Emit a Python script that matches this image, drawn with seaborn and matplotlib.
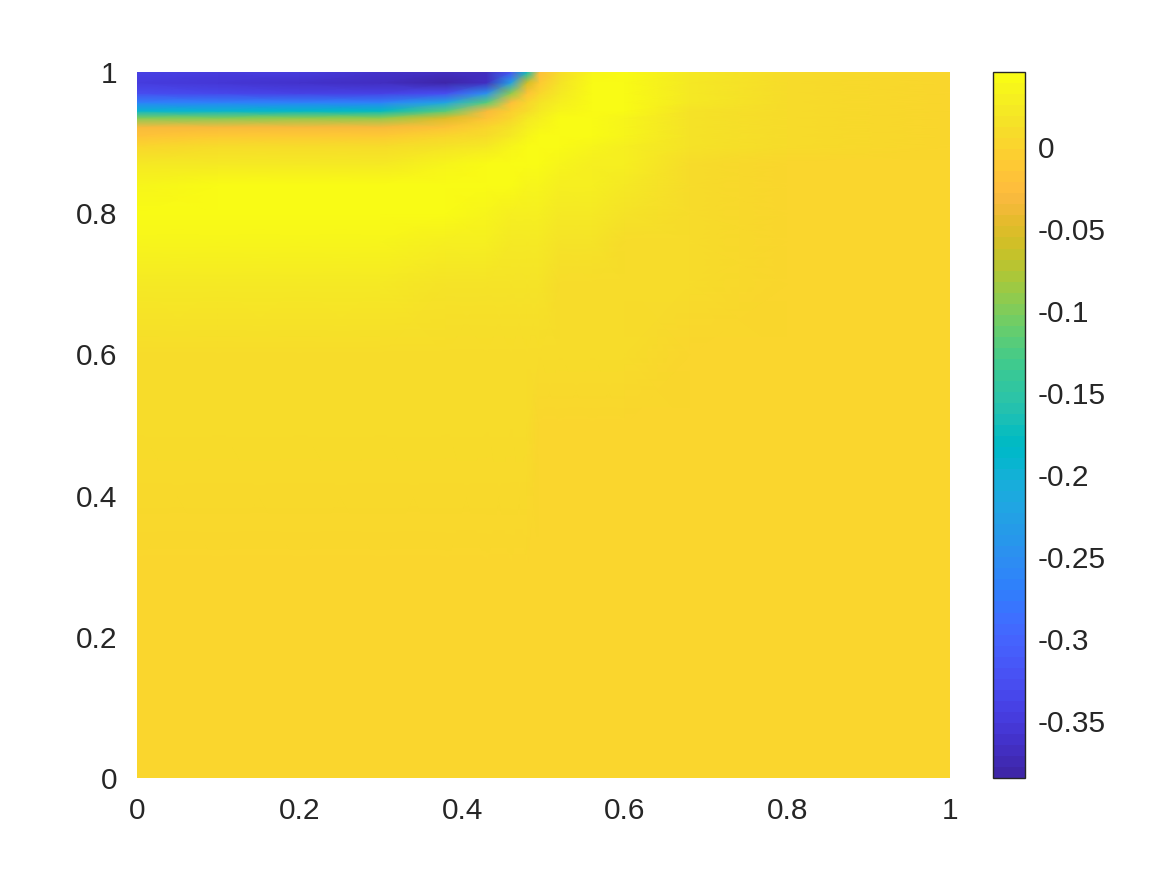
import numpy as np
import matplotlib
matplotlib.use("Agg")
import matplotlib.pyplot as plt
import seaborn as sns
from matplotlib.colors import ListedColormap

# grid (x columns, y rows bottom -> top)
xs = [0, 0.1, 0.2, 0.3, 0.38, 0.43, 0.46, 0.48, 0.495, 0.52, 0.56, 0.6, 0.68, 0.8, 1.0]
ys = [0, 0.3, 0.5, 0.6, 0.7, 0.76, 0.8, 0.84, 0.87, 0.895, 0.91, 0.922, 0.935,
      0.945, 0.957, 0.97, 0.985, 1.0]

z_000 = [0.003, 0.003, 0.003, 0.003, 0.003, 0.003, 0.003, 0.003, 0.003, 0.003, 0.003, 0.003, 0.003, 0.003, 0.003]
z_030 = [0.004, 0.004, 0.004, 0.004, 0.004, 0.004, 0.004, 0.004, 0.004, 0.004, 0.004, 0.004, 0.004, 0.004, 0.004]
z_050 = [0.007, 0.007, 0.007, 0.007, 0.007, 0.006, 0.006, 0.006, 0.005, 0.005, 0.005, 0.005, 0.004, 0.004, 0.004]
z_060 = [0.012, 0.012, 0.011, 0.011, 0.010, 0.010, 0.009, 0.009, 0.008, 0.008, 0.007, 0.006, 0.005, 0.004, 0.004]
z_070 = [0.022, 0.022, 0.021, 0.020, 0.018, 0.016, 0.015, 0.014, 0.013, 0.012, 0.011, 0.009, 0.006, 0.004, 0.004]
z_076 = [0.038, 0.038, 0.037, 0.035, 0.030, 0.026, 0.023, 0.021, 0.020, 0.018, 0.015, 0.012, 0.007, 0.005, 0.004]
z_080 = [0.045, 0.045, 0.045, 0.044, 0.041, 0.036, 0.032, 0.029, 0.027, 0.024, 0.020, 0.016, 0.008, 0.005, 0.004]
z_084 = [0.038, 0.039, 0.040, 0.040, 0.044, 0.044, 0.041, 0.038, 0.035, 0.031, 0.026, 0.021, 0.010, 0.005, 0.004]
z_087 = [0.022, 0.023, 0.024, 0.025, 0.033, 0.040, 0.044, 0.044, 0.041, 0.037, 0.032, 0.026, 0.012, 0.005, 0.004]
z_0895 = [0.005, 0.006, 0.007, 0.008, 0.015, 0.025, 0.036, 0.043, 0.045, 0.042, 0.037, 0.030, 0.014, 0.006, 0.004]
z_091 = [-0.015, -0.014, -0.013, -0.012, 0.000, 0.012, 0.024, 0.036, 0.042, 0.045, 0.041, 0.033, 0.015, 0.006, 0.004]
z_0922 = [-0.035, -0.034, -0.032, -0.030, -0.020, 0.000, 0.014, 0.028, 0.036, 0.044, 0.044, 0.035, 0.016, 0.006, 0.004]
z_0935 = [-0.10, -0.10, -0.095, -0.09, -0.05, -0.015, 0.004, 0.020, 0.028, 0.040, 0.045, 0.038, 0.017, 0.006, 0.004]
z_0945 = [-0.19, -0.19, -0.185, -0.18, -0.12, -0.035, -0.008, 0.012, 0.022, 0.036, 0.045, 0.040, 0.018, 0.007, 0.004]
z_0957 = [-0.27, -0.27, -0.27, -0.27, -0.22, -0.12, -0.025, 0.002, 0.014, 0.030, 0.044, 0.042, 0.019, 0.007, 0.004]
z_097 = [-0.33, -0.335, -0.34, -0.34, -0.33, -0.25, -0.09, -0.015, 0.004, 0.024, 0.042, 0.044, 0.020, 0.007, 0.004]
z_0985 = [-0.35, -0.355, -0.36, -0.37, -0.385, -0.37, -0.23, -0.06, -0.010, 0.018, 0.040, 0.045, 0.021, 0.007, 0.004]
z_100 = [-0.34, -0.345, -0.35, -0.36, -0.37, -0.37, -0.32, -0.17, -0.025, 0.012, 0.036, 0.0457, 0.022, 0.008, 0.004]

cbar_ticks = [-0.35, -0.3, -0.25, -0.2, -0.15, -0.1, -0.05, 0]
cbar_labels = ["-0.35", "-0.3", "-0.25", "-0.2", "-0.15", "-0.1", "-0.05", "0"]
axis_ticks = [0, 0.2, 0.4, 0.6, 0.8, 1]
axis_labels = ["0", "0.2", "0.4", "0.6", "0.8", "1"]

# parula (64 entries)
parula_rgb = [
    [0.2422, 0.1504, 0.6603], [0.2504, 0.1650, 0.7076], [0.2578, 0.1818, 0.7511], [0.2647, 0.1978, 0.7952],
    [0.2706, 0.2147, 0.8364], [0.2751, 0.2342, 0.8710], [0.2783, 0.2559, 0.8991], [0.2803, 0.2782, 0.9221],
    [0.2813, 0.3006, 0.9414], [0.2810, 0.3228, 0.9579], [0.2795, 0.3447, 0.9717], [0.2760, 0.3667, 0.9829],
    [0.2699, 0.3892, 0.9906], [0.2602, 0.4123, 0.9952], [0.2440, 0.4358, 0.9988], [0.2206, 0.4603, 0.9973],
    [0.1963, 0.4847, 0.9892], [0.1834, 0.5074, 0.9798], [0.1786, 0.5289, 0.9682], [0.1764, 0.5499, 0.9520],
    [0.1687, 0.5703, 0.9359], [0.1540, 0.5902, 0.9218], [0.1460, 0.6091, 0.9079], [0.1380, 0.6276, 0.8973],
    [0.1248, 0.6459, 0.8883], [0.1113, 0.6635, 0.8763], [0.0952, 0.6798, 0.8598], [0.0689, 0.6948, 0.8394],
    [0.0297, 0.7082, 0.8163], [0.0036, 0.7203, 0.7917], [0.0067, 0.7312, 0.7660], [0.0433, 0.7411, 0.7394],
    [0.0964, 0.7500, 0.7120], [0.1408, 0.7584, 0.6842], [0.1717, 0.7670, 0.6554], [0.1938, 0.7758, 0.6251],
    [0.2161, 0.7843, 0.5923], [0.2470, 0.7918, 0.5567], [0.2906, 0.7973, 0.5188], [0.3406, 0.8008, 0.4789],
    [0.3909, 0.8029, 0.4354], [0.4456, 0.8024, 0.3909], [0.5044, 0.7993, 0.3480], [0.5616, 0.7942, 0.3045],
    [0.6174, 0.7876, 0.2612], [0.6720, 0.7793, 0.2227], [0.7242, 0.7698, 0.1910], [0.7738, 0.7598, 0.1646],
    [0.8203, 0.7498, 0.1535], [0.8634, 0.7406, 0.1596], [0.9035, 0.7330, 0.1774], [0.9393, 0.7288, 0.2100],
    [0.9728, 0.7298, 0.2394], [0.9956, 0.7434, 0.2371], [0.9970, 0.7659, 0.2199], [0.9952, 0.7893, 0.2028],
    [0.9892, 0.8136, 0.1885], [0.9786, 0.8386, 0.1766], [0.9676, 0.8639, 0.1643], [0.9610, 0.8890, 0.1537],
    [0.9597, 0.9135, 0.1423], [0.9628, 0.9373, 0.1265], [0.9691, 0.9606, 0.1064], [0.9769, 0.9839, 0.0805],
]
parula = ListedColormap(parula_rgb, name="parula")

Z = np.array([z_000, z_030, z_050, z_060, z_070, z_076, z_080, z_084, z_087, z_0895,
              z_091, z_0922, z_0935, z_0945, z_0957, z_097, z_0985, z_100])

sns.set_style("white")
plt.rcParams["font.family"] = ["Liberation Sans", "DejaVu Sans"]
plt.rcParams["text.color"] = "#262626"

fig = plt.figure(figsize=(11.67, 8.75), dpi=100)
ax = fig.add_axes([0.1174, 0.1109, 0.6966, 0.8068])
cax = fig.add_axes([0.8509, 0.1109, 0.0274, 0.8068])

X, Y = np.meshgrid(xs, ys)
mesh = ax.pcolormesh(X, Y, Z, shading="gouraud", cmap=parula,
                     vmin=Z.min(), vmax=Z.max(), rasterized=True)
ax.set_xlim(0, 1)
ax.set_ylim(0, 1)
ax.set_xticks(axis_ticks)
ax.set_xticklabels(axis_labels)
ax.set_yticks(axis_ticks)
ax.set_yticklabels(axis_labels)
ax.tick_params(length=0, labelsize=21.5, pad=14, colors="#262626")
for s in ax.spines.values():
    s.set_visible(False)

cb = fig.colorbar(mesh, cax=cax)
cb.set_ticks(cbar_ticks)
cb.set_ticklabels(cbar_labels)
cax.tick_params(direction="in", length=7, width=1, labelsize=21.5, pad=9,
                colors="#262626")
cb.outline.set_edgecolor("#262626")
cb.outline.set_linewidth(1)

fig.savefig("out.png", dpi=100, facecolor="white")
